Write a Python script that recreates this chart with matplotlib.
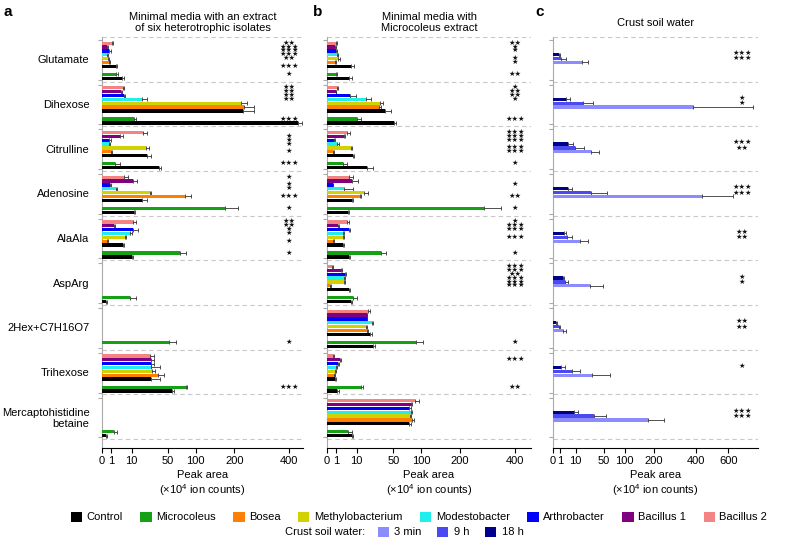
import numpy as np
import matplotlib.pyplot as plt
from matplotlib.patches import Patch

plt.rcParams['font.family'] = ['Liberation Sans', 'DejaVu Sans']
plt.rcParams['mathtext.fontset'] = 'custom'
plt.rcParams['mathtext.rm'] = 'Liberation Sans'

metabolites = ["Glutamate", "Dihexose", "Citrulline", "Adenosine", "AlaAla", "AspArg",
               "2Hex+C7H16O7", "Trihexose", "Mercaptohistidine\nbetaine"]

# bars in each group, top to bottom
isolates = ["Bacillus 2", "Bacillus 1", "Arthrobacter", "Modestobacter",
            "Methylobacterium", "Bosea", "Control"]
iso_colors = ["#f48484", "#800080", "#0000ff", "#22eeee", "#d2d200", "#ff8000", "#000000"]
micro_color = "#16a016"
ctrl_color = "#000000"
crust_labels = ["18 h", "9 h", "3 min"]
crust_colors = ["#00008b", "#4a4af0", "#8c8cff"]

# panel a: extract of six heterotrophic isolates (x10^4 ion counts)
a_cluster = [
    [1.1, 0.25, 0.6, 0.32, 0.45, 0.56, 2.2],
    [4.9, 4.1, 5.7, 18, 220, 230, 226],
    [19.5, 3.7, 0.6, 0.56, 22, 0.86, 23.5],
    [5.7, 11.2, 0.73, 2.2, 26.4, 79, 18],
    [10.8, 1.65, 11.2, 9, 6, 0.25, 4.9],
    [0, 0, 0, 0, 0, 0, 0],
    [0, 0, 0, 0, 0, 0, 0],
    [26.4, 27.5, 27.5, 28, 29, 36, 28],
    [0, 0, 0, 0, 0, 0, 0],
]
a_cluster_err = [
    [0.4, 0.1, 0.3, 0.1, 0.15, 0.15, 0.4],
    [0.6, 0.5, 0.5, 4.8, 20, 34, 38],
    [4, 1.2, 0.3, 0.2, 3, 0.2, 4.5],
    [2.2, 2.6, 0.2, 0.3, 1.1, 11.6, 5.5],
    [2.2, 0.3, 3.4, 1, 0.6, 0.1, 0.8],
    [0, 0, 0, 0, 0, 0, 0],
    [0, 0, 0, 0, 0, 0, 0],
    [4.6, 3, 3, 10, 3, 8, 10],
    [0, 0, 0, 0, 0, 0, 0],
]
a_micro = [2.2, 11.7, 2.0, 173, 69.6, 9, 51, 80.7, 1.7]
a_micro_err = [0.8, 1.5, 1.7, 39, 12, 4, 11, 1, 0.8]
a_ctrl = [4.6, 441, 37.6, 11.7, 10, 0.15, 0, 55.5, 0.15]
a_ctrl_err = [0.7, 18, 2.2, 0.7, 0.8, 0.1, 0, 3.5, 0.1]
a_stars = [
    ["**", "***", "***", "***", "**", "", "***", "*"],
    ["**", "**", "**", "**", "", "", "", "***"],
    ["", "*", "*", "*", "", "*", "", "***"],
    ["*", "", "*", "*", "", "***", "", "*"],
    ["**", "**", "*", "*", "", "*", "", "*"],
    ["", "", "", "", "", "", "", ""],
    ["", "", "", "", "", "", "", "*"],
    ["", "", "", "", "", "", "", "***"],
    ["", "", "", "", "", "", "", ""],
]

# panel b: Microcoleus extract
b_cluster = [
    [0.92, 0.72, 0.92, 1.06, 1.45, 0.72, 6.5],
    [1.06, 0.92, 6, 17.2, 31.8, 31, 38],
    [4.7, 3.3, 0.55, 1.2, 6.3, 0.45, 7.8],
    [5.6, 6.9, 0.37, 3.3, 15.5, 12.3, 6.9],
    [4.7, 1.45, 5.6, 2.8, 2.8, 0.45, 3.0],
    [0.25, 2.1, 3.7, 3.3, 3.3, 0.1, 5.6],
    [19.3, 17.8, 17.8, 22.6, 17.2, 17.8, 20.9],
    [0.45, 1.9, 1.45, 0.92, 0.72, 0.55, 0.72],
    [87.6, 79, 76.6, 79, 78, 81, 76.6],
]
b_cluster_err = [
    [0.3, 0.1, 0.2, 0.3, 0.45, 0.1, 1.7],
    [0.2, 0.1, 3.5, 4.4, 4, 2.5, 8],
    [1.3, 0.5, 0.1, 0.3, 0.8, 0.1, 0.5],
    [1.9, 4.2, 0.1, 4.2, 3.2, 0.6, 0.7],
    [1, 0.2, 0.3, 0.4, 0.4, 0.05, 0.2],
    [0.1, 0.3, 0.6, 0.3, 0.5, 0.05, 0.4],
    [1.3, 0.5, 0.5, 1.8, 0.5, 1, 2.5],
    [0.1, 0.3, 0.3, 0.2, 0.1, 0.1, 0.2],
    [8.8, 3.5, 3, 2.5, 2, 5, 3],
]
b_micro = [0.92, 10, 3.0, 279, 32.6, 7.5, 89, 12.8, 5.1]
b_micro_err = [0.3, 2.8, 1.4, 64, 6.4, 2.5, 16, 1.5, 2.1]
b_ctrl = [5.6, 50.8, 18.4, 5.1, 5.6, 6.3, 24.3, 1.2, 6.9]
b_ctrl_err = [1.3, 3, 5.2, 0.2, 0.6, 0.9, 1.3, 0.3, 1]
b_stars = [
    ["**", "*", "*", "", "*", "*", "", "**"],
    ["*", "**", "**", "*", "", "", "", "***"],
    ["***", "***", "***", "", "***", "***", "", "*"],
    ["", "", "*", "", "", "**", "", "*"],
    ["*", "***", "***", "", "***", "", "", "*"],
    ["***", "***", "**", "***", "***", "***", "", ""],
    ["", "", "", "", "", "", "", "*"],
    ["", "***", "", "", "", "", "", "**"],
    ["", "", "", "", "", "", "", ""],
]

# panel c: crust soil water (18 h, 9 h, 3 min)
c_18h = [0.73, 3.3, 4.6, 4.2, 2.2, 1.9, 0.2, 1.4, 8.8]
c_9h = [1.4, 17.8, 9.4, 28, 3.9, 2.6, 0.6, 7.2, 32.5]
c_3min = [16, 383, 28, 433, 14.3, 26.5, 2.1, 29.6, 175]
c_18h_err = [0.3, 2.4, 3.4, 2.6, 1.1, 0.6, 0.05, 1.6, 3.1]
c_9h_err = [1.9, 14, 9.4, 28, 2.9, 2, 0.3, 7, 22]
c_3min_err = [8, 397, 13, 200, 9.2, 21.5, 1.2, 33, 66]
c_stars = [
    ["***", "***", ""],
    ["*", "*", ""],
    ["***", "**", ""],
    ["***", "***", ""],
    ["**", "**", ""],
    ["*", "*", ""],
    ["**", "**", ""],
    ["*", "", ""],
    ["***", "***", ""],
]

G = 11.6          # group height in bar slots
cl_off = [1.6, 2.6, 3.6, 4.6, 5.6, 6.6, 7.6]
micro_off = 9.7
ctrl_off = 10.7
crust_off = [4.6, 5.6, 6.6]
crust_star_off = [4.3, 5.7, 7.0]
bh = 0.85
star_size = 5.2


def sqrt_fwd(x):
    return np.sqrt(np.clip(x, 0, None))


def sqrt_inv(x):
    return np.asarray(x) ** 2


def one_bar(ax, y, val, err, color):
    if val <= 0:
        return
    ax.errorbar(val, y, xerr=[[0], [err]], fmt='none', ecolor='#333333',
                elinewidth=0.6, capsize=1.2, capthick=0.6, zorder=2)
    ax.barh(y, val, height=bh, color=color, zorder=3)


def setup_axes(ax, xmax, ticks):
    ax.set_xscale('function', functions=(sqrt_fwd, sqrt_inv))
    ax.set_xlim(0, xmax)
    ax.set_ylim(9 * G + 2.3, 0)
    ax.set_xticks(ticks)
    ax.set_xticklabels([str(t) for t in ticks], fontsize=8)
    ax.tick_params(axis='x', length=3.5, width=0.8, pad=2)
    ax.set_xlabel("Peak area\n(×10$^4$ ion counts)", fontsize=8, labelpad=3)
    for s in ['top', 'right']:
        ax.spines[s].set_visible(False)
    ax.spines['left'].set_color('#aaaaaa')
    ax.spines['left'].set_linewidth(0.8)
    ax.spines['bottom'].set_linewidth(0.8)
    for i in range(10):
        ax.axhline(i * G, color='#c8c8c8', ls=(0, (4, 3)), lw=0.8, zorder=1)
    minor = []
    for i in range(9):
        minor += [i * G + 0.8, i * G + G - 0.5]
    ax.set_yticks(minor, minor=True)
    ax.tick_params(axis='y', which='minor', length=3, color='#aaaaaa', width=0.8)
    ax.set_yticks([i * G + G / 2 for i in range(9)])
    ax.tick_params(axis='y', which='major', length=0, pad=9)


def draw_media(ax, cluster, cluster_err, micro, micro_err, ctrl, ctrl_err, stars, xmax, star_x):
    setup_axes(ax, xmax, [0, 1, 10, 50, 100, 200, 400])
    for i in range(9):
        base = i * G
        for j in range(7):
            one_bar(ax, base + cl_off[j], cluster[i][j], cluster_err[i][j], iso_colors[j])
        one_bar(ax, base + micro_off, micro[i], micro_err[i], micro_color)
        one_bar(ax, base + ctrl_off, ctrl[i], ctrl_err[i], ctrl_color)
        ys = cl_off + [micro_off]
        for j, s in enumerate(stars[i]):
            if s:
                ax.text(star_x, base + ys[j], "★" * len(s), ha='center', va='center',
                        fontsize=star_size, color='#111111', zorder=4)


fig = plt.figure(figsize=(7.88, 5.4), dpi=100)
bottom = 1 - 448 / 540
height = 411 / 540
ax_a = fig.add_axes([102 / 788, bottom, 201 / 788, height])
ax_b = fig.add_axes([327 / 788, bottom, 204 / 788, height])
ax_c = fig.add_axes([553 / 788, bottom, 205 / 788, height])

draw_media(ax_a, a_cluster, a_cluster_err, a_micro, a_micro_err, a_ctrl, a_ctrl_err,
           a_stars, 462, 400)
draw_media(ax_b, b_cluster, b_cluster_err, b_micro, b_micro_err, b_ctrl, b_ctrl_err,
           b_stars, 471, 400)

setup_axes(ax_c, 822, [0, 1, 10, 50, 100, 200, 400, 600])
c_vals = [c_18h, c_9h, c_3min]
c_errs = [c_18h_err, c_9h_err, c_3min_err]
for i in range(9):
    base = i * G
    for k in range(3):
        one_bar(ax_c, base + crust_off[k], c_vals[k][i], c_errs[k][i], crust_colors[k])
        s = c_stars[i][k]
        if s:
            ax_c.text(700, base + crust_star_off[k], "★" * len(s), ha='center', va='center',
                      fontsize=star_size, color='#111111', zorder=4)

ax_a.set_yticklabels(metabolites, fontsize=8, ha='right')
ax_b.set_yticklabels([])
ax_c.set_yticklabels([])

ax_a.set_title("Minimal media with an extract\nof six heterotrophic isolates", fontsize=8, pad=4)
ax_b.set_title("Minimal media with\nMicrocoleus extract", fontsize=8, pad=4)
ax_c.set_title("Crust soil water", fontsize=8, pad=8)

fig.text(3 / 788, 1 - 12 / 540, "a", fontsize=11, fontweight='bold', va='center')
fig.text(313 / 788, 1 - 12 / 540, "b", fontsize=11, fontweight='bold', va='center')
fig.text(535 / 788, 1 - 12 / 540, "c", fontsize=11, fontweight='bold', va='center')

# legend
legend_names = ["Control", "Microcoleus", "Bosea", "Methylobacterium", "Modestobacter",
                "Arthrobacter", "Bacillus 1", "Bacillus 2"]
legend_colors = ["#000000", micro_color, "#ff8000", "#d2d200", "#22eeee", "#0000ff",
                 "#800080", "#f48484"]
h1 = [Patch(facecolor=c, edgecolor='none') for c in legend_colors]
fig.legend(h1, legend_names, loc='center', bbox_to_anchor=(419 / 788, 1 - 517 / 540),
           ncol=8, frameon=False, fontsize=8, handlelength=1.0, handleheight=1.0,
           handletextpad=0.4, columnspacing=1.6, borderpad=0)

fig.text(365 / 788, 1 - 532 / 540, "Crust soil water:", fontsize=8, ha='right', va='center')
h2 = [Patch(facecolor=crust_colors[k], edgecolor='none') for k in [2, 1, 0]]
fig.legend(h2, ["3 min", "9 h", "18 h"], loc='center left',
           bbox_to_anchor=(372 / 788, 1 - 532 / 540), ncol=3, frameon=False, fontsize=8,
           handlelength=1.0, handleheight=1.0, handletextpad=0.5, columnspacing=1.4,
           borderpad=0)

fig.savefig("out.png", dpi=100)
